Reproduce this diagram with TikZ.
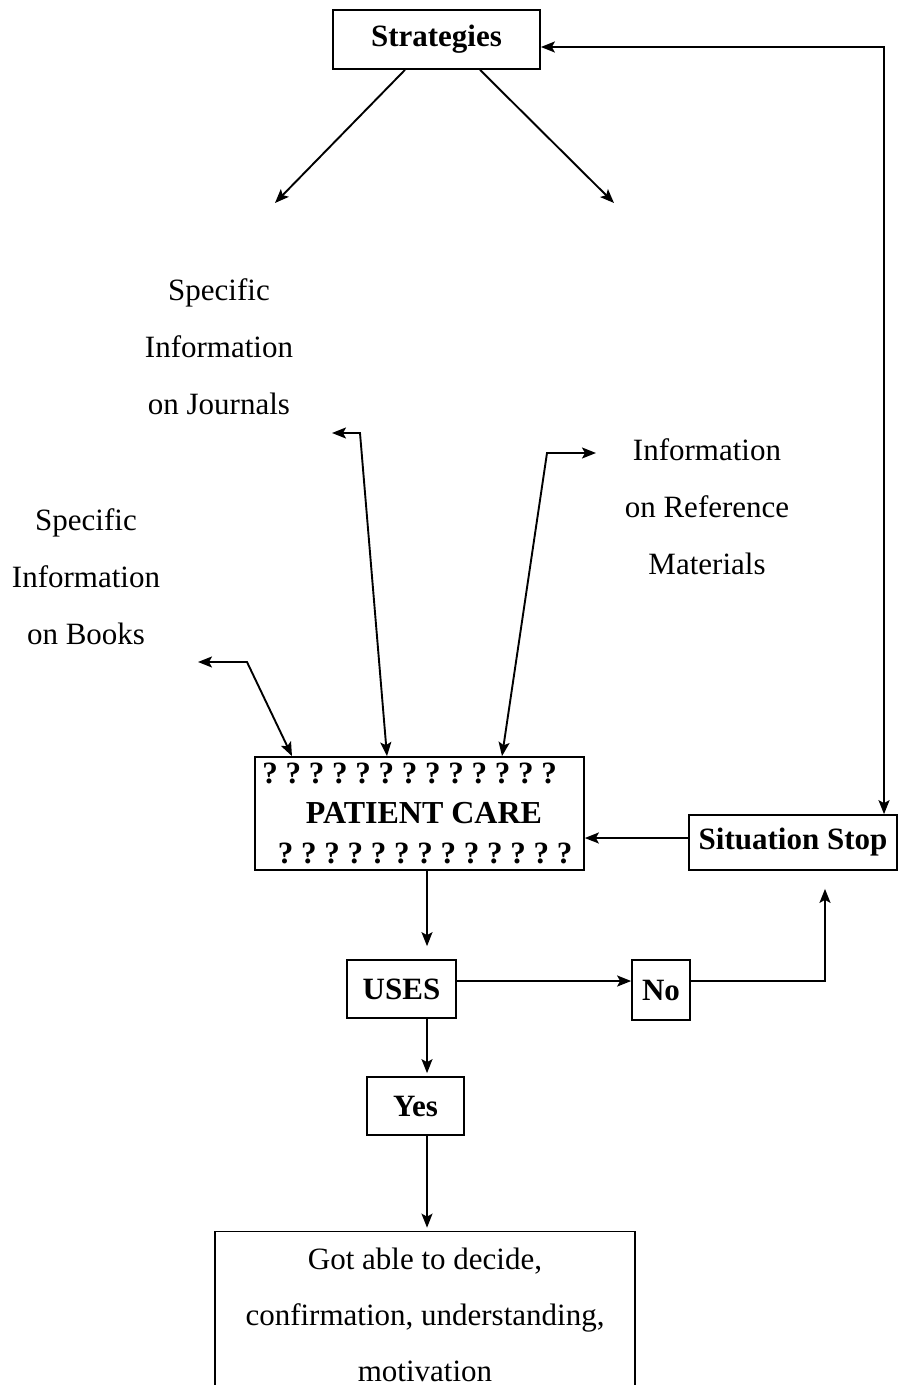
\documentclass[tikz,border=0pt]{standalone}
\usepackage{fontspec}
\setmainfont{Liberation Serif}
\usetikzlibrary{arrows.meta}
\frenchspacing

\begin{document}
\begin{tikzpicture}[x=1pt,y=-1pt,line width=1.9pt,
  box/.style={draw,line width=1.7pt,inner sep=0pt,font=\fontsize{31}{36}\selectfont\bfseries},
  lbl/.style={align=center,font=\fontsize{31}{57}\selectfont},
  tip/.tip={Stealth[length=14pt,width=11pt,inset=3pt]},
  arr/.style={-tip},
  both/.style={tip-tip}]
\useasboundingbox (0,0) rectangle (901,1385);
\clip (0,0) rectangle (901,1385);

% boxes
\node[box,minimum width=207,minimum height=59] (strat) at (436.5,39.5) {Strategies};
\node[box,minimum width=329,minimum height=113,align=center,
      font=\fontsize{31}{40}\selectfont\bfseries] (care) at (419.5,813.5)
  {? ? ? ? ? ? ? ? ? ? ? ? ?\hspace*{20pt}\\
   \hspace*{9pt}{\fontsize{32}{40}\selectfont PATIENT CARE}\\
   \hspace*{11pt}? ? ? ? ? ? ? ? ? ? ? ? ?};
\node[box,minimum width=208,minimum height=55] (stop) at (793,842.5) {Situation Stop};
\node[box,minimum width=109,minimum height=58] (uses) at (401.5,989) {USES};
\node[box,minimum width=58,minimum height=60] (no) at (661,990) {No};
\node[box,minimum width=97,minimum height=58] (yes) at (415.5,1106) {Yes};
\node[box,minimum width=420,minimum height=167,align=center,
      font=\fontsize{31}{56}\selectfont] (result) at (425,1315)
  {Got able to decide,\\confirmation, understanding,\\motivation};

% free labels
\node[lbl] (journ) at (219,347) {Specific\\Information\\on Journals};
\node[lbl] (refm) at (707,507) {Information\\on Reference\\Materials};
\node[lbl] (books) at (86,577) {Specific\\Information\\on Books};

% strategies fan out
\coordinate (sl) at (275,203);
\coordinate (sr) at (614,203);
\draw[arr] ([xshift=-31.5pt]strat.south) -- (sl);
\draw[arr] ([xshift=43.5pt]strat.south) -- (sr);

% information sources feeding patient care
\coordinate (btip) at (198,662);
\coordinate (bcor) at (247,662);
\draw[both] (btip) -- (bcor) -- ([xshift=-127.5pt]care.north);
\coordinate (jtip) at (332,433);
\coordinate (jcor) at (360,433);
\draw[both] (jtip) -- (jcor) -- ([xshift=-32.5pt]care.north);
\coordinate (rtip) at (596,453);
\coordinate (rcor) at (547,453);
\draw[both] (rtip) -- (rcor) -- ([xshift=82.5pt]care.north);

% feedback loop to strategies
\draw[both] ([yshift=-7.5pt]strat.east) -| ([xshift=91pt]stop.north);
\coordinate (sw) at ([yshift=4.5pt]stop.west);
\draw[arr] (sw) -- (sw -| care.east);

% decision flow
\coordinate (cs) at ([xshift=7.5pt]care.south);
\draw[arr,shorten >=13pt] (cs) -- (cs |- uses.north);
\coordinate (ue) at ([yshift=8pt]uses.east);
\draw[arr] (ue) -- (ue -| no.west);
\draw[arr,shorten >=18pt] (ue -| no.east) -| ([xshift=32pt]stop.south);
\coordinate (us) at ([xshift=25.5pt]uses.south);
\draw[arr,shorten >=3pt] (us) -- (us |- yes.north);
\coordinate (ys) at ([xshift=11.5pt]yes.south);
\draw[arr,shorten >=3pt] (ys) -- (ys |- result.north);
\end{tikzpicture}
\end{document}
